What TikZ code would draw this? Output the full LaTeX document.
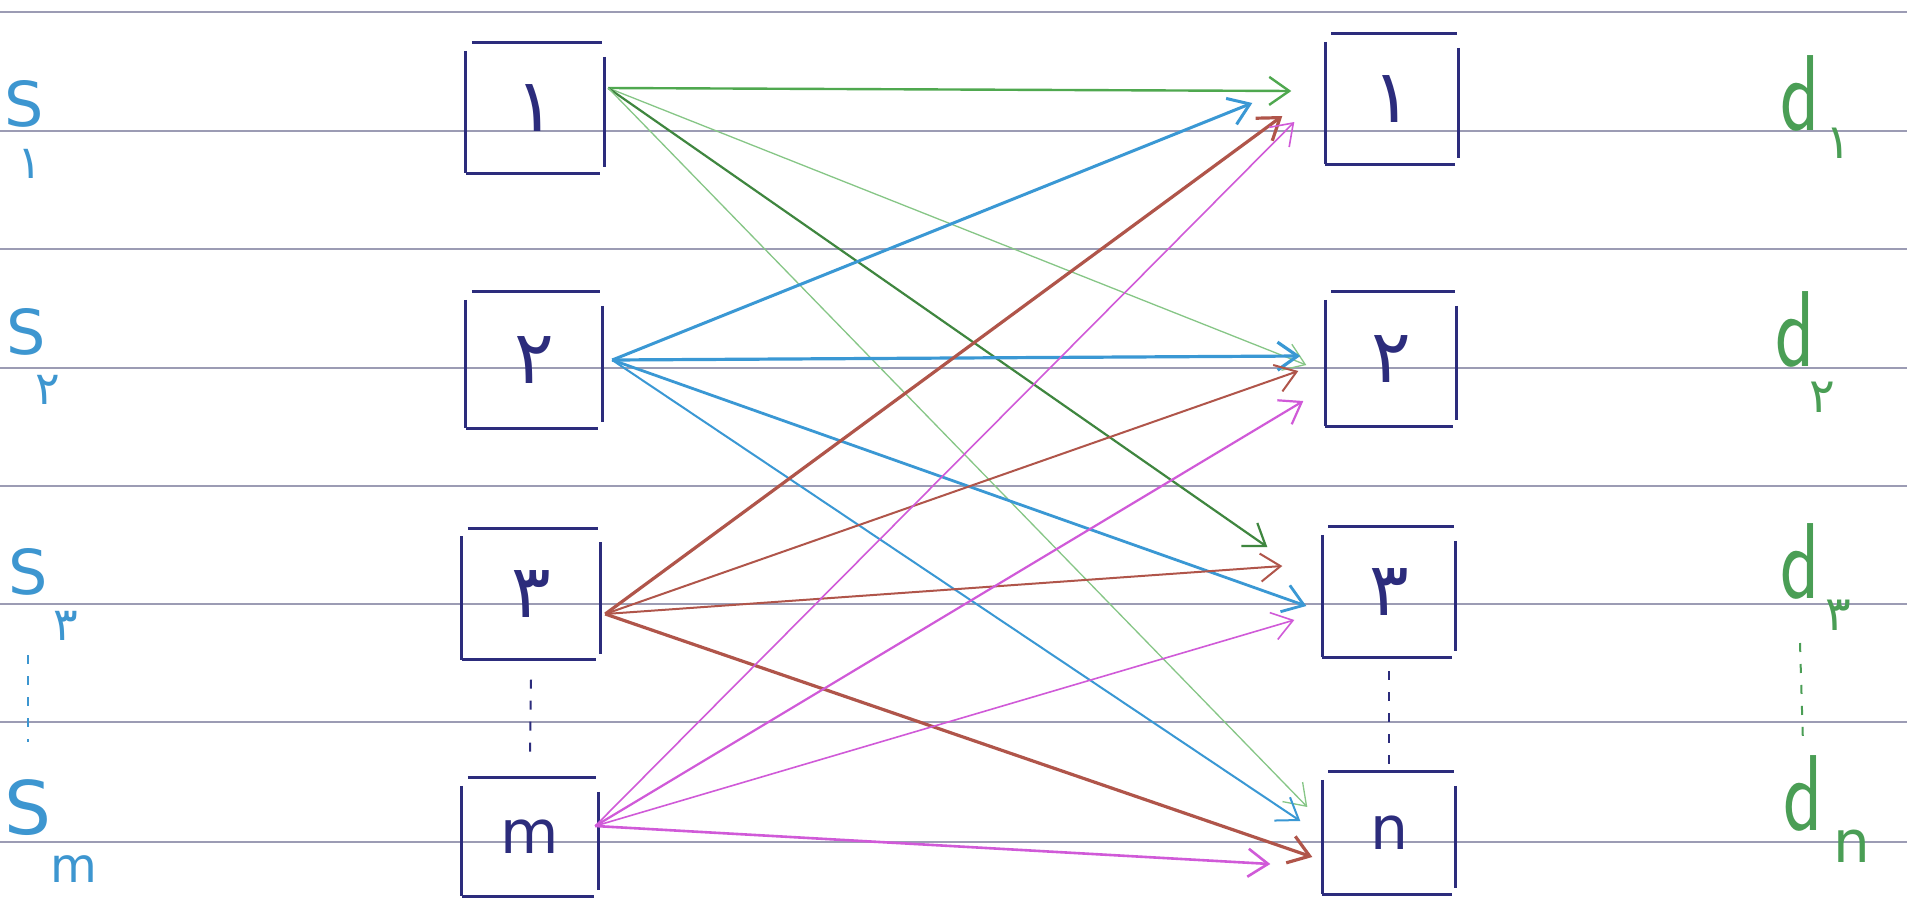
\documentclass[tikz,border=0pt]{standalone}
\usepackage{fontspec}
\setmainfont{DejaVu Sans}
\newfontfamily\arabicfont[Script=Arabic]{DejaVu Sans}
\TeXXeTstate=1
\usetikzlibrary{arrows.meta}
\definecolor{navy}{HTML}{2C2C7C}
\definecolor{sblue}{HTML}{3D96D0}
\definecolor{dgreen}{HTML}{4A9E55}
\definecolor{agreen}{HTML}{4FA84F}
\definecolor{lgreen}{HTML}{86C686}
\definecolor{ablue}{HTML}{3A98D4}
\definecolor{abrown}{HTML}{B0554A}
\definecolor{amag}{HTML}{D05AD8}
\definecolor{rule}{HTML}{9C9CB4}
\tikzset{
  box/.style={draw=none,minimum width=#1,inner sep=0pt},
  boxline/.style={navy,line width=2.8pt},
  num/.style={text=navy,font=\fontsize{74}{74}\selectfont},
  let/.style={text=navy,font=\fontsize{60}{60}\selectfont},
  slab/.style={text=sblue,font=\fontsize{62}{62}\selectfont,anchor=base,inner sep=0pt},
  ssub/.style={text=sblue,font=\fontsize{46}{46}\selectfont,anchor=base,inner sep=0pt},
  dlab/.style={text=dgreen,font=\sffamily\fontsize{108}{108}\selectfont,anchor=base,inner sep=0pt},
  dsub/.style={text=dgreen,font=\fontsize{48}{48}\selectfont,anchor=base,inner sep=0pt},
  link/.style={line width=#1,-{Straight Barb[length=20pt,width=28pt]}},
  link/.default=2pt,
  ruled/.style={rule,line width=1.6pt},
  dots/.style={line width=2pt,dash pattern=on 9pt off 12pt}
}
\newcommand{\sketchbox}[1]{%
  \draw[boxline] ([xshift=6pt]#1.north west) -- ([xshift=-2pt]#1.north east);
  \draw[boxline] ([yshift=-8pt]#1.north west) -- (#1.south west);
  \draw[boxline] ([yshift=-14pt]#1.north east) -- ([yshift=6pt]#1.south east);
  \draw[boxline] (#1.south west) -- ([xshift=-4pt]#1.south east);
}
\begin{document}
\begin{tikzpicture}[x=1pt,y=-1pt]
\useasboundingbox (0,0) rectangle (1907,921);
\fill[white] (0,0) rectangle (1907,921);
% ruled lines
\foreach \yy in {12,131,249,368,486,604,722,842}
  \draw[ruled] (0,\yy) -- (1907,\yy);
% source boxes
\node[box=138pt,minimum height=130pt] (s1) at (535,108) {};
\node[box=136pt,minimum height=136pt] (s2) at (534,360) {};
\node[box=138pt,minimum height=131pt] (s3) at (531,594) {};
\node[box=136pt,minimum height=118pt] (sm) at (530,837) {};
% destination boxes
\node[box=133pt,minimum height=130pt] (d1) at (1392,99) {};
\node[box=131pt,minimum height=134pt] (d2) at (1391,359) {};
\node[box=133pt,minimum height=130pt] (d3) at (1389,592) {};
\node[box=133pt,minimum height=122pt] (dn) at (1389,833) {};
\sketchbox{s1}\sketchbox{s2}\sketchbox{s3}\sketchbox{sm}
\sketchbox{d1}\sketchbox{d2}\sketchbox{d3}\sketchbox{dn}
% box numbers
\node[num] (ns1) at (s1) {\arabicfont\beginR ۱\endR};
\node[num] (ns2) at (s2) {\arabicfont\beginR ۲\endR};
\node[num] (ns3) at (s3) {\arabicfont\beginR ۳\endR};
\node[let] (nsm) at (sm) {m};
\node[num] (nd1) at (d1) {\arabicfont\beginR ۱\endR};
\node[num] (nd2) at (d2) {\arabicfont\beginR ۲\endR};
\node[num] (nd3) at (d3) {\arabicfont\beginR ۳\endR};
\node[let] (ndn) at (dn) {n};
% dots between boxes
\draw[dots,navy] ([yshift=-20pt]s3.south) -- ([yshift=18pt]sm.north);
\draw[dots,navy] ([yshift=-14pt]d3.south) -- ([yshift=8pt]dn.north);
% S labels
\node[slab] (S1) at (24,126) {S};
\node[ssub] (S1i) at (30,178) {\arabicfont\beginR ۱\endR};
\node[slab] (S2) at (26,354) {S};
\node[ssub] (S2i) at (48,404) {\arabicfont\beginR ۲\endR};
\node[slab] (S3) at (28,594) {S};
\node[ssub] (S3i) at (66,640) {\arabicfont\beginR ۳\endR};
\node[slab,font=\fontsize{74}{74}\selectfont] (Sm) at (28,834) {S};
\node[ssub,font=\fontsize{48}{48}\selectfont] (Smi) at (74,882) {m};
\draw[dots,sblue] (S3.south |- 0,655) -- (Sm.north |- 0,742);
% d labels
\node[dlab] (D1) at (1800,130) {\scalebox{0.75}[1]{d}};
\node[dsub] (D1i) at (1838,158) {\arabicfont\beginR ۱\endR};
\node[dlab] (D2) at (1795,366) {\scalebox{0.75}[1]{d}};
\node[dsub] (D2i) at (1822,412) {\arabicfont\beginR ۲\endR};
\node[dlab] (D3) at (1800,598) {\scalebox{0.75}[1]{d}};
\node[dsub] (D3i) at (1838,630) {\arabicfont\beginR ۳\endR};
\node[dlab] (Dn) at (1803,830) {\scalebox{0.75}[1]{d}};
\node[dsub,font=\fontsize{58}{58}\selectfont] (Dni) at (1852,862) {n};
\draw[dots,dgreen] ([yshift=-45pt]D3.base) -- ([yshift=86pt]Dn.base);
% green arrows from s1
\draw[link=2.4pt,agreen] ([xshift=4pt,yshift=20pt]s1.east) -- ([xshift=-34pt,yshift=8pt]d1.west);
\draw[link=1.3pt,lgreen] ([xshift=4pt,yshift=20pt]s1.east) -- ([xshift=-19pt,yshift=-6pt]d2.west);
\draw[link=2.2pt,agreen!80!black] ([xshift=4pt,yshift=20pt]s1.east) -- ([xshift=-55pt,yshift=45pt]d3.west);
\draw[link=1.3pt,lgreen] ([xshift=4pt,yshift=20pt]s1.east) -- ([xshift=-15pt,yshift=26pt]dn.west);
% blue arrows from s2
\draw[link=3pt,ablue] ([xshift=10pt]s2.east) -- ([xshift=-73pt,yshift=-4pt]d1.west);
\draw[link=3.2pt,ablue] ([xshift=10pt]s2.east) -- ([xshift=-25pt,yshift=3pt]d2.west);
\draw[link=2.8pt,ablue] ([xshift=10pt]s2.east) -- ([xshift=-16pt,yshift=-14pt]d3.west);
\draw[link=2pt,ablue] ([xshift=10pt]s2.east) -- ([xshift=-22pt,yshift=12pt]dn.west);
% brown arrows from s3
\draw[link=3.2pt,abrown] ([xshift=5pt,yshift=-20pt]s3.east) -- ([xshift=-43pt,yshift=-17pt]d1.west);
\draw[link=2pt,abrown] ([xshift=5pt,yshift=-20pt]s3.east) -- ([xshift=-27pt,yshift=-12pt]d2.west);
\draw[link=2pt,abrown] ([xshift=5pt,yshift=-20pt]s3.east) -- ([xshift=-40pt,yshift=26pt]d3.west);
\draw[link=3.2pt,abrown] ([xshift=5pt,yshift=-20pt]s3.east) -- ([xshift=-10pt,yshift=-24pt]dn.west);
% magenta arrows from sm
\draw[link=1.6pt,amag] ([xshift=-3pt,yshift=11pt]sm.east) -- ([xshift=-31pt,yshift=-23pt]d1.west);
\draw[link=2.2pt,amag] ([xshift=-3pt,yshift=11pt]sm.east) -- ([xshift=-22pt,yshift=-42pt]d2.west);
\draw[link=1.6pt,amag] ([xshift=-3pt,yshift=11pt]sm.east) -- ([xshift=-28pt,yshift=-28pt]d3.west);
\draw[link=2.6pt,amag] ([xshift=-3pt,yshift=11pt]sm.east) -- ([xshift=-52pt,yshift=-31pt]dn.west);
\end{tikzpicture}
\end{document}
